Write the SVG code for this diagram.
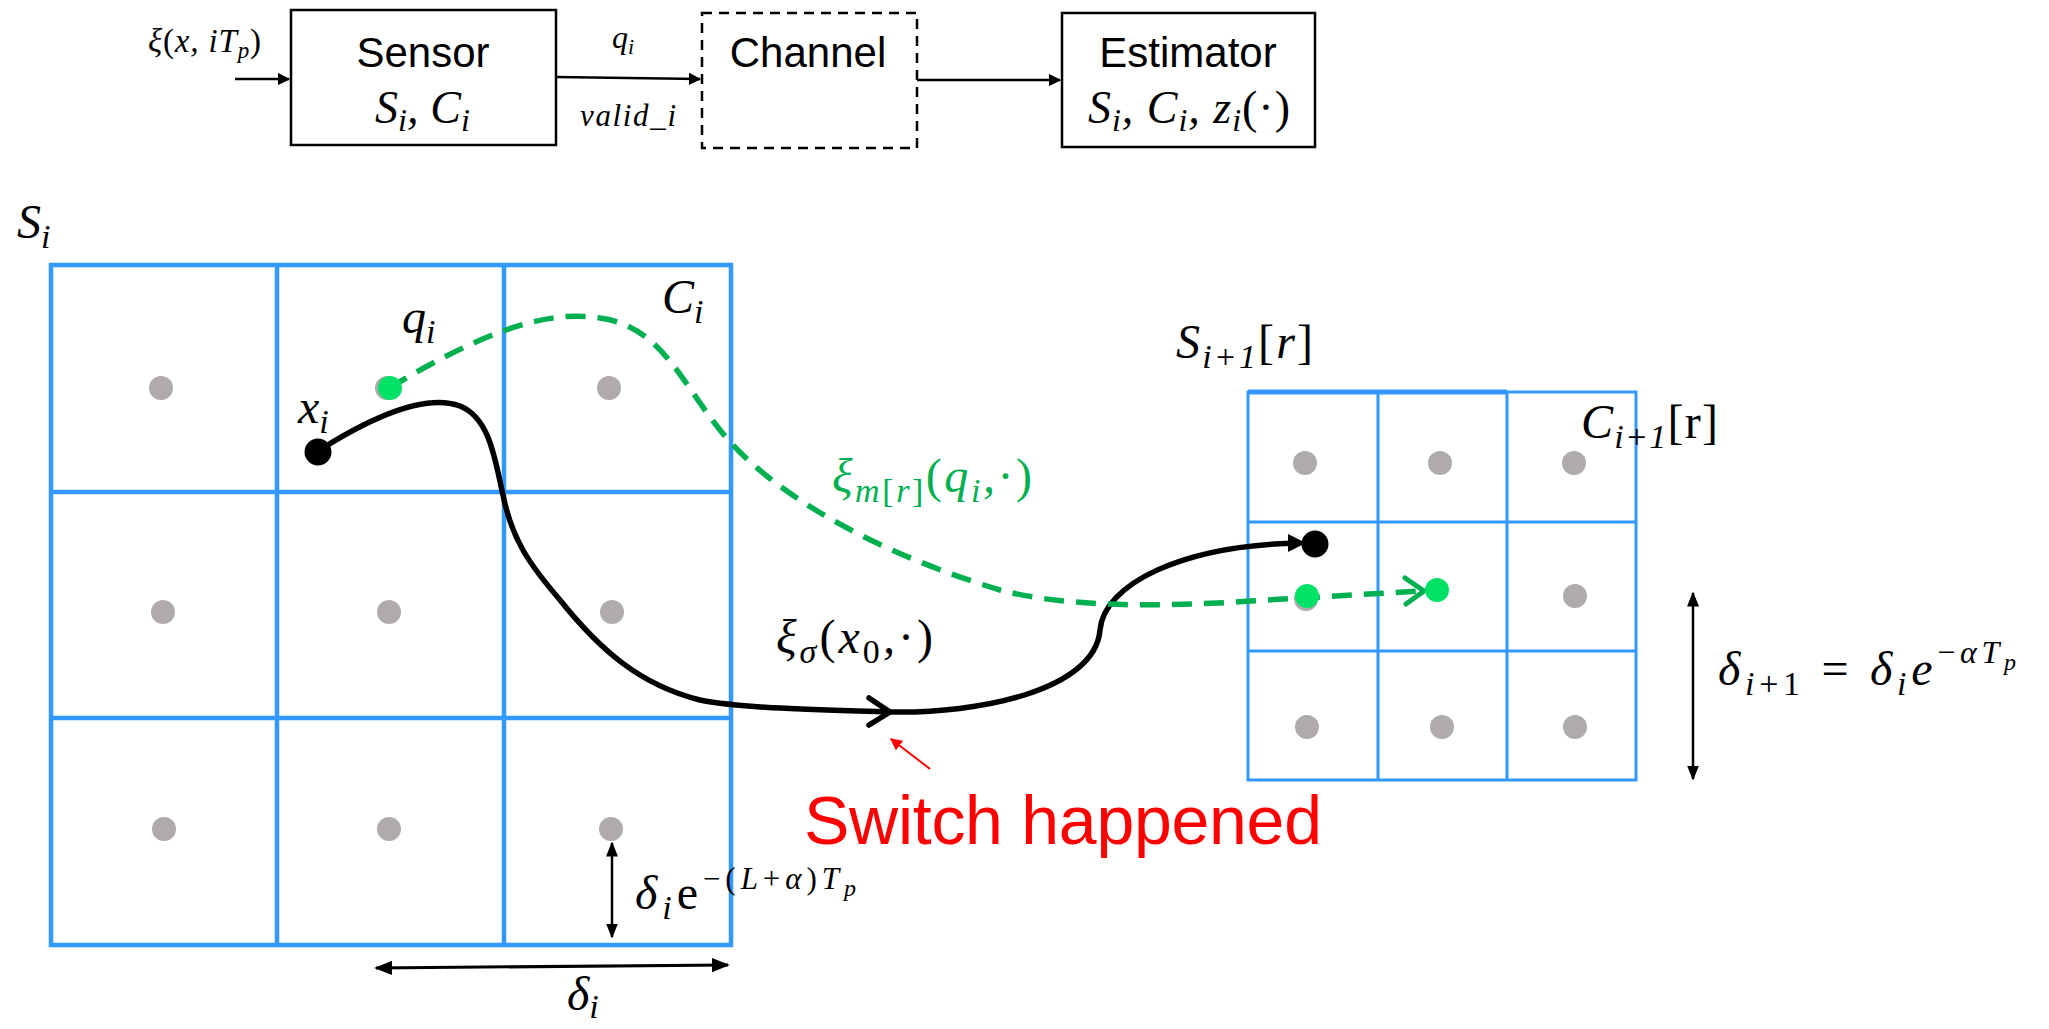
<svg xmlns="http://www.w3.org/2000/svg" width="2049" height="1029" viewBox="0 0 2049 1029">
<defs>
<style>
.box{fill:#fff;stroke:#000;stroke-width:2.5}
.dash{fill:#fff;stroke:#000;stroke-width:2.5;stroke-dasharray:10,7}
.sans{font-family:"Liberation Sans",Arial,sans-serif;fill:#000}
.m{font-family:"Liberation Serif","DejaVu Serif",serif;font-style:italic;fill:#000}
.up{font-style:normal}
.gb{fill:none;stroke:#3399ff;stroke-width:4.5;stroke-linecap:square}
.gs{fill:none;stroke:#3399ff;stroke-width:3;stroke-linecap:square}
.gd{fill:#afabab}
.ln{fill:none;stroke:#000;stroke-width:2.5}
</style>
<marker id="ah" viewBox="0 0 10 10" refX="9" refY="5" markerWidth="5" markerHeight="5" orient="auto-start-reverse" markerUnits="strokeWidth">
<path d="M0,0 L10,5 L0,10 z" fill="#000"/>
</marker>
<marker id="ahs" viewBox="0 0 10 10" refX="9" refY="5" markerWidth="6" markerHeight="6" orient="auto-start-reverse" markerUnits="strokeWidth">
<path d="M0,1 L10,5 L0,9 z" fill="#000"/>
</marker>
<marker id="ahr" viewBox="0 0 10 10" refX="9" refY="5" markerWidth="6" markerHeight="6" orient="auto" markerUnits="strokeWidth">
<path d="M0,0 L10,5 L0,10 z" fill="#f00"/>
</marker>
</defs>
<rect width="2049" height="1029" fill="#fff"/>

<!-- Top block diagram -->
<g id="sensor">
<rect class="box" x="291" y="10" width="265" height="135"/>
<text class="sans" x="423" y="67" font-size="42" text-anchor="middle">Sensor</text>
<text class="m" x="375" y="123" font-size="46" textLength="95" lengthAdjust="spacing">S<tspan font-size="32" dy="8">i</tspan><tspan dy="-8">, C</tspan><tspan font-size="32" dy="8">i</tspan></text>
</g>
<g id="channel">
<rect class="dash" x="702" y="13" width="215" height="135"/>
<text class="sans" x="808" y="67" font-size="42" text-anchor="middle">Channel</text>
</g>
<g id="estimator">
<rect class="box" x="1062" y="13" width="253" height="134"/>
<text class="sans" x="1188" y="67" font-size="42" text-anchor="middle">Estimator</text>
<text class="m" x="1088" y="123" font-size="46" textLength="202" lengthAdjust="spacing">S<tspan font-size="32" dy="8">i</tspan><tspan dy="-8">, C</tspan><tspan font-size="32" dy="8">i</tspan><tspan dy="-8">, z</tspan><tspan font-size="32" dy="8">i</tspan><tspan dy="-8" class="up">(·)</tspan></text>
</g>
<g id="top-labels">
<text class="m" x="148" y="52" font-size="33" textLength="113" lengthAdjust="spacing">ξ<tspan class="up">(</tspan>x, iT<tspan font-size="23" dy="6">p</tspan><tspan dy="-6" class="up">)</tspan></text>
<text class="m" x="612" y="48" font-size="32">q<tspan font-size="22" dy="6">i</tspan></text>
<text class="m" x="580" y="126" font-size="31" textLength="96" lengthAdjust="spacing">valid_i</text>
</g>

<!-- Big grid S_i -->
<g id="grid-Si">
<path class="gb" d="M51,265 H731 V945 H51 Z M277,265 V945 M504,265 V945 M51,492 H731 M51,718 H731"/>
<circle class="gd" cx="161" cy="388" r="12"/>
<circle class="gd" cx="387" cy="388" r="12"/>
<circle class="gd" cx="609" cy="388" r="12"/>
<circle class="gd" cx="163" cy="612" r="12"/>
<circle class="gd" cx="389" cy="612" r="12"/>
<circle class="gd" cx="612" cy="612" r="12"/>
<circle class="gd" cx="164" cy="829" r="12"/>
<circle class="gd" cx="389" cy="829" r="12"/>
<circle class="gd" cx="611" cy="829" r="12"/>
<text class="m" x="17" y="238" font-size="48">S<tspan font-size="34" dy="10">i</tspan></text>
<text class="m" x="662" y="313" font-size="48">C<tspan font-size="34" dy="10">i</tspan></text>
</g>

<!-- Small grid S_{i+1}[r] -->
<g id="grid-Si1">
<path class="gs" d="M1248,392 H1636 V780 H1248 Z M1378,392 V780 M1507,392 V780 M1248,522 H1636 M1248,651 H1636"/>
<path d="M1248,392 H1507" stroke="#3399ff" stroke-width="5" fill="none"/>
<circle class="gd" cx="1305" cy="463" r="12"/>
<circle class="gd" cx="1440" cy="463" r="12"/>
<circle class="gd" cx="1574" cy="463" r="12"/>
<circle class="gd" cx="1306" cy="599" r="12"/>
<circle class="gd" cx="1575" cy="596" r="12"/>
<circle class="gd" cx="1307" cy="727" r="12"/>
<circle class="gd" cx="1442" cy="727" r="12"/>
<circle class="gd" cx="1575" cy="727" r="12"/>
<text class="m" x="1176" y="358" font-size="48" textLength="137" lengthAdjust="spacing">S<tspan font-size="34" dy="10">i+1</tspan><tspan dy="-10" class="up">[</tspan>r<tspan class="up">]</tspan></text>
<text class="m" x="1581" y="438" font-size="48" textLength="137" lengthAdjust="spacing">C<tspan font-size="34" dy="10">i+1</tspan><tspan dy="-10" class="up">[r]</tspan></text>
</g>

<!-- Connectors -->
<g id="connectors">
<line class="ln" x1="235" y1="79" x2="289" y2="79" marker-end="url(#ah)"/>
<line class="ln" x1="556" y1="77" x2="700" y2="79" marker-end="url(#ah)"/>
<line class="ln" x1="917" y1="80" x2="1060" y2="80" marker-end="url(#ah)"/>

<!-- trajectory xi_sigma -->
<path d="M318,451 C370,418 425,393 460,406 C490,418 495,460 503,495 C512,540 530,565 560,600 C600,650 640,685 700,700 C740,708 800,709 889,712 C980,714 1095,690 1100,630 C1104,585 1180,545 1300,543" fill="none" stroke="#000" stroke-width="5.5"/>
<path d="M869,698 L890,712 L869,725" fill="none" stroke="#000" stroke-width="5.5" stroke-linecap="round" stroke-linejoin="round"/>
<path d="M1288,534 L1306,543 L1288,552 Z" fill="#000"/>

<!-- trajectory xi_m[r] -->
<path d="M389,388 C470,340 540,308 600,318 C660,326 680,380 720,430 C780,505 900,560 1000,590 C1060,606 1150,608 1250,601 L1420,591" fill="none" stroke="#00b050" stroke-width="5.5" stroke-dasharray="20,12"/>
<path d="M1405,578 L1424,591 L1406,604" fill="none" stroke="#00b050" stroke-width="5" stroke-linecap="round" stroke-linejoin="round"/>

<!-- delta arrows -->
<line x1="612" y1="843" x2="612" y2="937" stroke="#000" stroke-width="2.5" marker-start="url(#ahs)" marker-end="url(#ahs)"/>
<line x1="376" y1="968" x2="728" y2="965" stroke="#000" stroke-width="3" marker-start="url(#ahs)" marker-end="url(#ahs)"/>
<line x1="1693" y1="593" x2="1693" y2="779" stroke="#000" stroke-width="2.5" marker-start="url(#ahs)" marker-end="url(#ahs)"/>

<!-- red arrow -->
<line x1="930" y1="769" x2="891" y2="739" stroke="#f00" stroke-width="2" marker-end="url(#ahr)"/>
</g>

<!-- points -->
<g id="points">
<circle cx="390" cy="388" r="12" fill="#00e266"/>
<circle cx="318" cy="452" r="13.5" fill="#000"/>
<circle cx="1315" cy="544" r="13.5" fill="#000"/>
<circle cx="1307" cy="596" r="12" fill="#00e266"/>
<circle cx="1437" cy="590" r="12" fill="#00e266"/>
</g>

<!-- labels -->
<g id="labels">
<text class="m" x="402" y="333" font-size="48">q<tspan font-size="34" dy="10">i</tspan></text>
<text class="m" x="298" y="423" font-size="48">x<tspan font-size="34" dy="10">i</tspan></text>
<text class="m" x="832" y="492" font-size="48" style="fill:#00b050" textLength="200" lengthAdjust="spacing">ξ<tspan font-size="34" dy="10">m</tspan><tspan font-size="34" class="up">[</tspan><tspan font-size="34">r</tspan><tspan font-size="34" class="up">]</tspan><tspan dy="-10" class="up">(</tspan>q<tspan font-size="34" dy="10">i</tspan><tspan dy="-10">,</tspan><tspan class="up">·)</tspan></text>
<text class="m" x="776" y="653" font-size="48" textLength="157" lengthAdjust="spacing">ξ<tspan font-size="34" dy="10">σ</tspan><tspan dy="-10" class="up">(</tspan>x<tspan font-size="34" dy="10" class="up">0</tspan><tspan dy="-10">,</tspan><tspan class="up">·)</tspan></text>
<text class="sans" x="804" y="844" font-size="68" style="fill:#f00" textLength="518" lengthAdjust="spacing">Switch happened</text>
<text class="m" x="635" y="909" font-size="48" textLength="221" lengthAdjust="spacing">δ<tspan font-size="34" dy="10">i</tspan><tspan dy="-10" class="up">e</tspan><tspan font-size="31" dy="-20" class="up">−(</tspan><tspan font-size="31">L</tspan><tspan font-size="31" class="up">+</tspan><tspan font-size="31">α</tspan><tspan font-size="31" class="up">)</tspan><tspan font-size="31">T</tspan><tspan font-size="24" dy="7">p</tspan></text>
<text class="m" x="567" y="1010" font-size="48">δ<tspan font-size="34" dy="8">i</tspan></text>
<text class="m" x="1718" y="685" font-size="48" textLength="298" lengthAdjust="spacing">δ<tspan font-size="34" dy="10">i</tspan><tspan font-size="34" class="up">+1</tspan><tspan dy="-10" class="up"> = </tspan>δ<tspan font-size="34" dy="10">i</tspan><tspan dy="-10">e</tspan><tspan font-size="32" dy="-22" class="up">−</tspan><tspan font-size="32">αT</tspan><tspan font-size="24" dy="7">p</tspan></text>
</g>
</svg>
